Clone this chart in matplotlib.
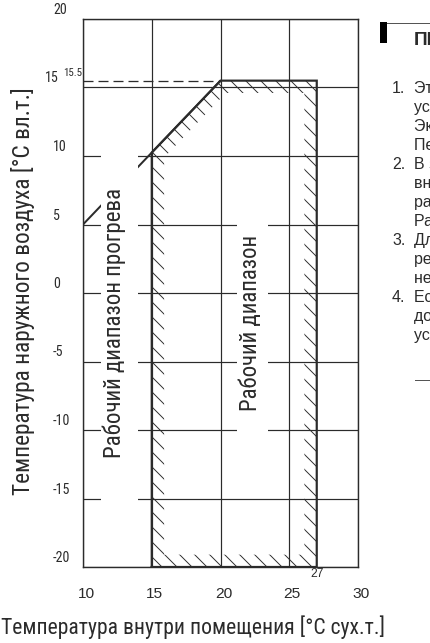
import matplotlib
matplotlib.use("Agg")
import matplotlib.pyplot as plt
from matplotlib.path import Path
from matplotlib.patches import PathPatch, Rectangle
from matplotlib.lines import Line2D
from matplotlib import transforms, font_manager

# ---- chart data -------------------------------------------------------
x_ticks = [10, 15, 20, 25, 30]
y_ticks = [-20, -15, -10, -5, 0, 5, 10, 15, 20]

# operating range: indoor dry-bulb limits and outdoor wet-bulb limits
range_x = [15, 27]
range_y = [-20, 15.5]

# warm-up range upper boundary (indoor, outdoor)
warmup_x = [10, 20]
warmup_y = [5, 15.5]

limit_y_label = "15.5"
limit_x_label = "27"

warmup_text = "Рабочий диапазон прогрева"
range_text = "Рабочий диапазон"
x_title = "Температура внутри помещения [°C сух.т.]"
y_title = "Температура наружного воздуха [°C вл.т.]"

notes_title = "ПРИМЕЧАНИЯ"
notes = [
    ("1.", ["Эти данные относятся к",
            "условиям работы при",
            "Эквивалентной длине трубы 7,5 м.",
            "Перепад высот: 0 м."]),
    ("2.", ["В зависимости от условий",
            "внешней среды диапазон",
            "работы может меняться.",
            "Работа вне диапазона недопустима."]),
    ("3.", ["Для обеспечения надёжного",
            "режима работы прогрев",
            "необходимо выполнять полностью."]),
    ("4.", ["Если температура выходит",
            "до пределов диапазона, проверьте",
            "условия эксплуатации."]),
]

# ---- styling --------------------------------------------------------
INK = "#2b2b2b"
DPI = 90
W, H = 430, 643

names = {f.name for f in font_manager.fontManager.ttflist}
NARROW = dict(family="Roboto")
for cand in ["Liberation Sans Narrow", "Roboto Condensed", "Open Sans Condensed"]:
    if cand in names:
        NARROW = dict(family=cand)
        break
REGULAR = dict(family="Liberation Sans")


def pt(px):
    return px * 72.0 / DPI


fig = plt.figure(figsize=(W / DPI, H / DPI), dpi=DPI)
plt.rcParams["hatch.linewidth"] = 0.75
ax = fig.add_axes([83 / W, 1 - 567 / H, (358 - 83) / W, (567 - 19) / H])
ax.set_xlim(x_ticks[0], x_ticks[-1])
ax.set_ylim(y_ticks[0], y_ticks[-1])
ax.set_xticks(x_ticks)
ax.set_yticks(y_ticks)
ax.tick_params(length=0, labelleft=False, labelbottom=False)
ax.grid(True, color=INK, linewidth=pt(1.2))
for s in ax.spines.values():
    s.set_color(INK)
    s.set_linewidth(pt(1.4))

# tick labels: y labels sit above their grid line, left aligned
ytrans = transforms.blended_transform_factory(ax.transAxes, ax.transData)
xtrans = transforms.blended_transform_factory(ax.transData, ax.transAxes)
for v in y_ticks:
    dx = -38 if v == 15 else -30
    ax.text(0, v, f"{v}", transform=transforms.offset_copy(ytrans, fig=fig, x=dx, y=9, units="dots"),
            ha="left", va="center", fontsize=pt(14), color=INK, **NARROW)
for v in x_ticks:
    ax.text(v, 0, f"{v}", transform=transforms.offset_copy(xtrans, fig=fig, x=3, y=-27, units="dots"),
            ha="center", va="center", fontsize=pt(15.5), color=INK, **REGULAR)

# limit value annotations
ax.text(0, range_y[1], limit_y_label,
        transform=transforms.offset_copy(ytrans, fig=fig, x=-20, y=8, units="dots"),
        ha="left", va="center", fontsize=pt(11), color=INK, **NARROW)
ax.text(range_x[1], 0, limit_x_label,
        transform=transforms.offset_copy(xtrans, fig=fig, x=0, y=-7, units="dots"),
        ha="center", va="center", fontsize=pt(12), color=INK, **REGULAR)

# dashed reference at the upper wet-bulb limit
x_cross = warmup_x[0] + (range_y[1] - warmup_y[0]) * (warmup_x[1] - warmup_x[0]) / (warmup_y[1] - warmup_y[0])
ax.plot([x_ticks[0], x_cross], [range_y[1], range_y[1]], color=INK, lw=pt(1.3),
        dashes=(pt(10) / pt(1.3), pt(5) / pt(1.3)), zorder=2)

# warm-up boundary line
ax.plot(warmup_x, warmup_y, color=INK, lw=pt(2.0), zorder=2, solid_capstyle="butt")

# operating range outline
slope = (warmup_y[1] - warmup_y[0]) / (warmup_x[1] - warmup_x[0])
y_corner = warmup_y[0] + slope * (range_x[0] - warmup_x[0])
outline = [(range_x[0], range_y[0]), (range_x[1], range_y[0]), (range_x[1], range_y[1]),
           (x_cross, range_y[1]), (range_x[0], y_corner)]
ox = [p[0] for p in outline] + [outline[0][0]]
oy = [p[1] for p in outline] + [outline[0][1]]
ax.plot(ox, oy, color=INK, lw=pt(2.2), zorder=2.5, solid_joinstyle="miter")


def inset(poly, d):
    """Offset a counter-clockwise convex polygon inward by d."""
    n = len(poly)
    lines = []
    for i in range(n):
        (x0, y0), (x1, y1) = poly[i], poly[(i + 1) % n]
        L = ((x1 - x0) ** 2 + (y1 - y0) ** 2) ** 0.5
        ux, uy = (x1 - x0) / L, (y1 - y0) / L
        nx, ny = -uy, ux
        lines.append(((x0 + d * nx, y0 + d * ny), (ux, uy)))
    out = []
    for i in range(n):
        (p1, u1), (p2, u2) = lines[i - 1], lines[i]
        den = u1[0] * u2[1] - u1[1] * u2[0]
        t = ((p2[0] - p1[0]) * u2[1] - (p2[1] - p1[1]) * u2[0]) / den
        out.append((p1[0] + t * u1[0], p1[1] + t * u1[1]))
    return out


inner = inset(outline, 0.9)[::-1]
verts = outline + [outline[0]] + inner + [inner[0]]
codes = ([Path.MOVETO] + [Path.LINETO] * (len(outline) - 1) + [Path.CLOSEPOLY]) * 2
strip = PathPatch(Path(verts, codes), facecolor="none", edgecolor=INK, lw=0, hatch="\\\\", zorder=2)
ax.add_patch(strip)

# white backing behind the range captions (breaks grid lines)
ax.add_patch(Rectangle((11.3, -17.5), 2.7, 29.5, facecolor="white", edgecolor="none", zorder=3))
ax.add_patch(Rectangle((21.2, -11.0), 2.25, 16.5, facecolor="white", edgecolor="none", zorder=3))
t_warm = ax.text(12.25, -2.2, warmup_text, rotation=90, ha="center", va="center",
                 fontsize=pt(25), color=INK, zorder=4, **NARROW)
t_range = ax.text(22.2, -2.2, range_text, rotation=90, ha="center", va="center",
                  fontsize=pt(25), color=INK, zorder=4, **NARROW)

# axis titles
t_x = fig.text(193 / W, 1 - 634 / H, x_title, ha="center", va="baseline",
               fontsize=pt(23), color=INK, **NARROW)
t_y = fig.text(23 / W, 1 - 291 / H, y_title, ha="center", va="center", rotation=90,
               fontsize=pt(24), color=INK, **NARROW)

# scale the long captions so that they span their intended length in pixels
renderer = fig.canvas.get_renderer()
for txt, length, vertical in [(t_warm, 272, True), (t_range, 177, True),
                              (t_x, 383, False), (t_y, 407, True)]:
    bb = txt.get_window_extent(renderer)
    cur = bb.height if vertical else bb.width
    txt.set_fontsize(txt.get_fontsize() * length / cur)

# notes column on the right
fig.add_artist(Rectangle((380 / W, 1 - 43 / H), 7 / W, 21 / H, transform=fig.transFigure,
                         facecolor="black", edgecolor="none"))
fig.add_artist(Line2D([387 / W, 1], [1 - 22.5 / H, 1 - 22.5 / H], transform=fig.transFigure,
                      color="#555555", lw=pt(1.0)))
fig.text(414 / W, 1 - 45 / H, notes_title, ha="left", va="baseline", fontsize=pt(19),
         fontweight="bold", color=INK, **REGULAR)
row = 0
for num, lines in notes:
    for j, line in enumerate(lines):
        yb = 1 - (93 + 19 * row) / H
        if j == 0:
            fig.text(392 / W, yb, num, ha="left", va="baseline", fontsize=pt(16), color=INK, **REGULAR)
        fig.text(414 / W, yb, line, ha="left", va="baseline", fontsize=pt(16), color=INK, **REGULAR)
        row += 1
fig.add_artist(Line2D([415 / W, 1], [1 - 380 / H, 1 - 380 / H], transform=fig.transFigure,
                      color="#555555", lw=pt(1.0)))

fig.savefig("out.png", dpi=DPI)
